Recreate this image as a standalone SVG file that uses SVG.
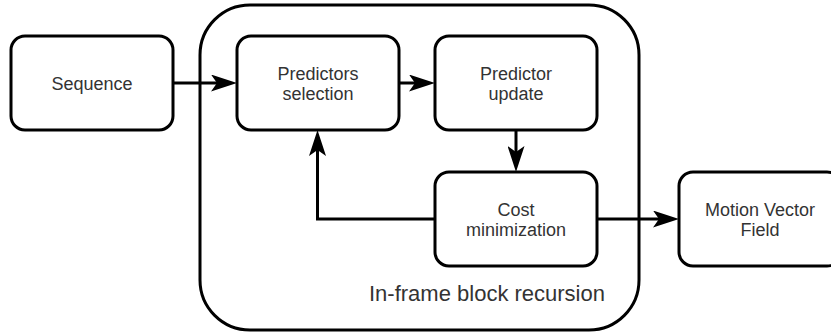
<svg xmlns="http://www.w3.org/2000/svg" width="831" height="332" viewBox="0 0 831 332">
<style>
.box{fill:#fff;stroke:#000;stroke-width:3}
.cont{fill:none;stroke:#000;stroke-width:3}
.lbl{font-family:"Liberation Sans",Arial,sans-serif;font-size:18px;fill:#333;text-anchor:middle}
.big{font-family:"Liberation Sans",Arial,sans-serif;font-size:22px;fill:#333}
.edge{fill:none;stroke:#000;stroke-width:3}
</style>
<defs>
<marker id="arr" markerUnits="userSpaceOnUse" viewBox="0 0 26 17" markerWidth="26" markerHeight="17" refX="16" refY="8.5" orient="auto">
<path d="M0,0 L26,8.5 L0,17 L6,8.5 Z" fill="#000"/>
</marker>
</defs>
<rect width="831" height="332" fill="#fff"/>
<g id="container">
<rect class="cont" x="200" y="5" width="439" height="325" rx="50" ry="50"/>
<text class="big" x="369" y="301">In-frame block recursion</text>
</g>
<g id="connectors">
<path class="edge" d="M173,83 H227" marker-end="url(#arr)"/>
<path class="edge" d="M399,83 H425" marker-end="url(#arr)"/>
<path class="edge" d="M516,130 V162" marker-end="url(#arr)"/>
<path class="edge" d="M435,219 H317.5 V140" marker-end="url(#arr)"/>
<path class="edge" d="M597,219 H669" marker-end="url(#arr)"/>
</g>
<g id="sequence">
<rect class="box" x="11" y="36" width="162" height="94" rx="14"/>
<text class="lbl" x="92" y="89.5">Sequence</text>
</g>
<g id="predictors-selection">
<rect class="box" x="237" y="36" width="162" height="94" rx="14"/>
<text class="lbl" x="318" y="79.5">Predictors</text>
<text class="lbl" x="318" y="99.5">selection</text>
</g>
<g id="predictor-update">
<rect class="box" x="435" y="36" width="162" height="94" rx="14"/>
<text class="lbl" x="516" y="79.5">Predictor</text>
<text class="lbl" x="516" y="99.5">update</text>
</g>
<g id="cost-minimization">
<rect class="box" x="435" y="172" width="162" height="94" rx="14"/>
<text class="lbl" x="516" y="215.5">Cost</text>
<text class="lbl" x="516" y="235.5">minimization</text>
</g>
<g id="motion-vector-field">
<rect class="box" x="679" y="172" width="162" height="94" rx="14"/>
<text class="lbl" x="760" y="215.5">Motion Vector</text>
<text class="lbl" x="760" y="235.5">Field</text>
</g>
</svg>
